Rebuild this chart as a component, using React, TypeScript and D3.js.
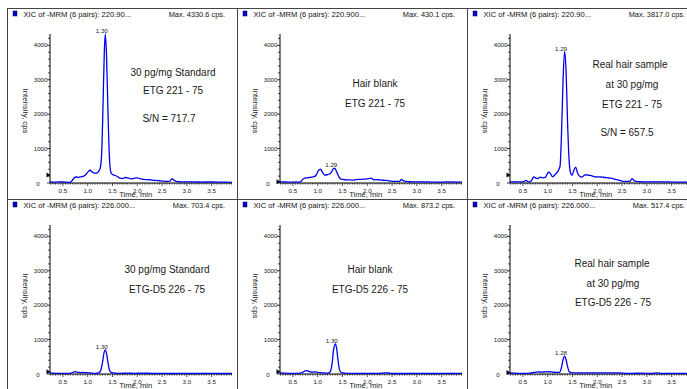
import { curveMonotoneX, line, range, scaleLinear } from "d3";

type Pt = [number, number];

// [time (min), intensity (cps)]
const etgStandard: Pt[] = [
  [0.24, 30], [0.35, 25], [0.45, 35], [0.55, 25], [0.63, 20], [0.68, 60], [0.72, 140], [0.77, 175],
  [0.82, 165], [0.87, 180], [0.92, 200], [0.96, 240], [1.01, 330], [1.05, 370], [1.09, 320], [1.13, 285],
  [1.18, 290], [1.22, 340], [1.25, 420], [1.28, 800], [1.31, 2300], [1.335, 3800], [1.355, 4330],
  [1.38, 3700], [1.41, 2000], [1.44, 700], [1.47, 300], [1.50, 250], [1.55, 220], [1.60, 190],
  [1.65, 140], [1.70, 130], [1.76, 160], [1.82, 140], [1.87, 120], [1.93, 135], [2.00, 150], [2.05, 130],
  [2.10, 110], [2.17, 100], [2.24, 95], [2.30, 85], [2.38, 75], [2.45, 65], [2.52, 55], [2.60, 50],
  [2.66, 55], [2.70, 125], [2.74, 80], [2.79, 45], [2.88, 35], [3.00, 30], [3.15, 30], [3.30, 28],
  [3.45, 30], [3.60, 28], [3.75, 25], [3.91, 20],
];
const etgBlank: Pt[] = [
  [0.24, 30], [0.35, 30], [0.45, 25], [0.55, 30], [0.64, 25], [0.68, 70], [0.72, 130], [0.78, 150],
  [0.84, 160], [0.90, 175], [0.95, 200], [0.99, 290], [1.03, 390], [1.06, 395], [1.10, 300], [1.14, 230],
  [1.19, 240], [1.24, 260], [1.28, 320], [1.32, 420], [1.345, 430], [1.38, 330], [1.42, 200], [1.47, 110],
  [1.54, 95], [1.62, 90], [1.70, 85], [1.78, 100], [1.85, 105], [1.92, 110], [1.98, 115], [2.04, 130],
  [2.08, 140], [2.13, 90], [2.19, 100], [2.25, 90], [2.32, 80], [2.38, 75], [2.44, 60], [2.50, 50],
  [2.58, 45], [2.65, 50], [2.69, 105], [2.73, 60], [2.78, 45], [2.90, 35], [3.05, 30], [3.20, 30],
  [3.40, 25], [3.60, 30], [3.91, 25],
];
const etgHair: Pt[] = [
  [0.24, 30], [0.35, 30], [0.45, 30], [0.52, 40], [0.56, 75], [0.60, 40], [0.64, 30], [0.68, 90],
  [0.72, 175], [0.76, 140], [0.80, 130], [0.85, 170], [0.90, 150], [0.95, 160], [0.99, 260], [1.02, 320],
  [1.06, 260], [1.10, 180], [1.14, 230], [1.18, 290], [1.22, 380], [1.25, 500], [1.28, 1500], [1.31, 3000],
  [1.34, 3817], [1.37, 3300], [1.40, 1800], [1.43, 700], [1.46, 300], [1.49, 220], [1.53, 380],
  [1.565, 460], [1.60, 300], [1.64, 200], [1.69, 170], [1.74, 230], [1.78, 240], [1.83, 225], [1.88, 215],
  [1.93, 190], [1.98, 175], [2.04, 180], [2.10, 170], [2.16, 160], [2.22, 145], [2.28, 140], [2.34, 115],
  [2.40, 100], [2.46, 70], [2.52, 50], [2.60, 45], [2.66, 50], [2.70, 125], [2.74, 70], [2.79, 45],
  [2.90, 35], [3.05, 30], [3.25, 30], [3.45, 30], [3.65, 25], [3.91, 25],
];
const d5Standard: Pt[] = [
  [0.24, 30], [0.35, 20], [0.50, 20], [0.63, 20], [0.70, 45], [0.74, 70], [0.78, 55], [0.84, 40],
  [0.90, 45], [0.96, 40], [1.02, 35], [1.08, 25], [1.15, 20], [1.22, 35], [1.26, 90], [1.30, 350],
  [1.33, 620], [1.355, 703], [1.38, 600], [1.41, 330], [1.44, 110], [1.48, 40], [1.55, 25], [1.65, 20],
  [1.80, 25], [1.95, 20], [2.10, 25], [2.30, 20], [2.50, 20], [2.70, 15], [2.90, 20], [3.10, 15],
  [3.30, 20], [3.50, 20], [3.70, 15], [3.91, 20],
];
const d5Blank: Pt[] = [
  [0.24, 30], [0.40, 20], [0.55, 20], [0.65, 25], [0.70, 50], [0.76, 100], [0.80, 90], [0.85, 60],
  [0.90, 55], [0.95, 60], [1.00, 45], [1.05, 40], [1.12, 30], [1.20, 25], [1.25, 60], [1.29, 300],
  [1.32, 700], [1.355, 873], [1.38, 760], [1.41, 400], [1.44, 120], [1.48, 40], [1.55, 25], [1.70, 20],
  [1.90, 20], [2.10, 20], [2.30, 25], [2.42, 35], [2.48, 20], [2.70, 15], [3.00, 20], [3.30, 15],
  [3.60, 20], [3.91, 20],
];
const d5Hair: Pt[] = [
  [0.24, 30], [0.40, 20], [0.55, 20], [0.65, 25], [0.72, 45], [0.80, 60], [0.88, 55], [0.95, 60],
  [1.02, 65], [1.10, 55], [1.18, 45], [1.24, 50], [1.28, 200], [1.31, 420], [1.34, 517], [1.37, 420],
  [1.40, 220], [1.43, 80], [1.47, 40], [1.55, 30], [1.70, 30], [1.85, 35], [2.00, 30], [2.20, 30],
  [2.40, 35], [2.50, 25], [2.70, 20], [2.90, 25], [3.10, 15], [3.20, 30], [3.30, 15], [3.60, 20],
  [3.91, 20],
];

const traces = [etgStandard, etgBlank, etgHair, d5Standard, d5Blank, d5Hair];
const headers = [
  "XIC of -MRM (6 pairs): 220.90...",
  "XIC of -MRM (6 pairs): 220.900...",
  "XIC of -MRM (6 pairs): 220.90...",
  "XIC of -MRM (6 pairs): 226.000...",
  "XIC of -MRM (6 pairs): 226.000...",
  "XIC of -MRM (6 pairs): 226.000...",
];
const maxLabels = [
  "Max. 4330.6 cps.", "Max. 430.1 cps.", "Max. 3817.0 cps.",
  "Max. 703.4 cps.", "Max. 873.2 cps.", "Max. 517.4 cps.",
];
const peakLabels = ["1.30", "1.29", "1.29", "1.30", "1.30", "1.28"];
const markerLevels = [232, 38, 232, 68, 68, 40];
const notes = [
  ["30 pg/mg Standard", "ETG 221 - 75", "S/N = 717.7"],
  ["Hair blank", "ETG 221 - 75"],
  ["Real hair sample", "at 30 pg/mg", "ETG 221 - 75", "S/N = 657.5"],
  ["30 pg/mg Standard", "ETG-D5 226 - 75"],
  ["Hair blank", "ETG-D5 226 - 75"],
  ["Real hair sample", "at 30 pg/mg", "ETG-D5 226 - 75"],
];
const yTicks = [0, 1000, 2000, 3000, 4000];
const xTicks = [0.5, 1.0, 1.5, 2.0, 2.5, 3.0, 3.5];

// note centres [x, y] for each line, absolute page coords
const notePos: Pt[][] = [
  [[173, 72], [173, 90], [169, 118]],
  [[375, 83], [375, 103]],
  [[630, 64], [632, 84], [632, 104], [627, 132]],
  [[167, 269], [167, 289]],
  [[370, 269], [370, 289]],
  [[612, 263], [613, 283], [613, 302]],
];

const W = 687;
const H = 389;
const colLeft = [7, 237, 467];
const rowTop = [8, 199];
const font = "'Liberation Sans', Arial, sans-serif";

function Panel({ i }: { i: number }) {
  const px = colLeft[i % 3];
  const py = rowTop[Math.floor(i / 3)];
  const x = scaleLinear().domain([0.24, 3.91]).range([px + 43, px + 225]);
  const y = scaleLinear().domain([0, 4330]).range([py + 175, py + 26]);
  const path = line<Pt>()
    .x(d => x(d[0]))
    .y(d => y(d[1]))
    .curve(curveMonotoneX);
  const data = traces[i];
  const peak = data.reduce((a, b) => (b[1] > a[1] ? b : a));
  const ax = x(0.24);
  const y0 = y(0);
  const yTitleY = i < 3 ? py + 103 : py + 97;
  const mk = y(markerLevels[i]);

  return (
    <g>
      {/* header */}
      <rect x={px + 6} y={py + 3} width={4} height={5} fill="#0000cc" stroke="#000066" strokeWidth={0.5} />
      <text x={px + 16.5} y={py + 8.8} fontSize={7.6} fill="#111">{headers[i]}</text>
      <text x={px + 218} y={py + 8.8} fontSize={7.4} fill="#111" textAnchor="end">{maxLabels[i]}</text>

      {/* y axis */}
      <line x1={ax} x2={ax} y1={y0} y2={y(4330)} stroke="#000" strokeWidth={1} />
      {range(0, 4330, 200).map(v => (
        <line key={v} x1={ax - (v % 1000 === 0 ? 3 : 1.8)} x2={ax} y1={y(v)} y2={y(v)} stroke="#000" strokeWidth={0.8} />
      ))}
      {yTicks.map(v => (
        v === 0 ? (
          <text key={v} x={ax - 12} y={y0 + 2.5} fontSize={6.2} fill="#222" textAnchor="middle">0</text>
        ) : (
          <text key={v} x={ax - 2.5} y={y(v) + 2} fontSize={6.2} fill="#222" textAnchor="end">{v}</text>
        )
      ))}
      <text
        transform={`translate(${px + 16},${yTitleY}) rotate(90)`}
        fontSize={7.8} fill="#222" textAnchor="middle"
      >Intensity, cps</text>

      {/* x axis */}
      <line x1={ax} x2={x(3.91)} y1={y0} y2={y0} stroke="#000" strokeWidth={1} />
      {range(0.25, 3.91, 0.05).map(t => {
        const major = Math.abs(t * 2 - Math.round(t * 2)) < 1e-6;
        return (
          <line key={t} x1={x(t)} x2={x(t)} y1={y0} y2={y0 + (major ? 3 : 1.6)} stroke="#000" strokeWidth={0.7} />
        );
      })}
      {xTicks.map(t => (
        <text key={t} x={x(t)} y={py + 184.5} fontSize={6.2} fill="#222" textAnchor="middle">{t.toFixed(1)}</text>
      ))}
      <text x={px + 128.7} y={py + 188.7} fontSize={7.6} fill="#222" textAnchor="middle">Time, min</text>

      {/* marker */}
      <path d={`M${ax - 3.5},${mk - 2.5}L${ax - 3.5},${mk + 2.5}L${ax + 0.5},${mk}Z`} fill="#000022" />

      {/* trace */}
      <path d={path(data) ?? ""} fill="none" stroke="#0000ee" strokeWidth={1.3} />
      <text x={x(peak[0]) - 3.5} y={y(peak[1]) - 1} fontSize={6.2} fill="#222" textAnchor="middle">{peakLabels[i]}</text>

      {/* annotations */}
      {notes[i].map((s, j) => (
        <text key={j} x={notePos[i][j][0]} y={notePos[i][j][1] + 3.6} fontSize={10} fill="#1a1a1a" textAnchor="middle">{s}</text>
      ))}
    </g>
  );
}

export default function App() {
  return (
    <svg
      width={W}
      height={H}
      style={{ position: "absolute", left: 0, top: 0, background: "#fff" }}
      fontFamily={font}
    >
      <rect width={W} height={H} fill="#fff" />
      {range(6).map(i => <Panel key={i} i={i} />)}
      {/* panel borders */}
      <line x1={7} x2={W} y1={8.5} y2={8.5} stroke="#444" strokeWidth={1} />
      <line x1={7} x2={W} y1={199.5} y2={199.5} stroke="#444" strokeWidth={1} />
      {colLeft.map(cx => (
        <line key={cx} x1={cx + 0.5} x2={cx + 0.5} y1={8} y2={H} stroke="#444" strokeWidth={1} />
      ))}
    </svg>
  );
}
